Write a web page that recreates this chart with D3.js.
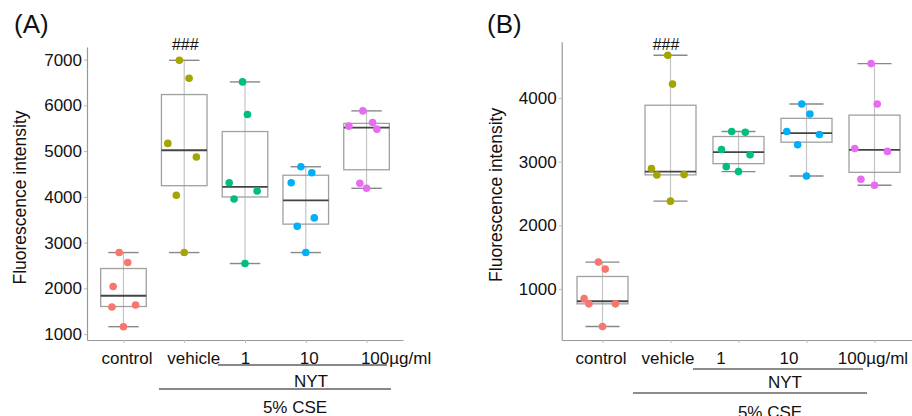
<!DOCTYPE html>
<html>
<head>
<meta charset="utf-8">
<script src="https://cdn.jsdelivr.net/npm/d3@7"></script>
<style>
	body { margin: 0; background: #fff; }
	svg { display: block; font-family: "Liberation Sans", Arial, Helvetica, sans-serif; }
</style>
</head>
<body>
<svg id="chart" width="912" height="416"></svg>
<script>
// groups and colours (ggplot default hues)
const groups	= ['control', 'vehicle', '1', '10', '100µg/ml'];
const colors	= ['#F8766D', '#A3A500', '#00BF7D', '#00B0F6', '#E76BF3'];

// panel A values, one row per group
const valuesA	= [
	[2783, 2565, 2042, 1593, 1636, 1163],
	[6984, 6592, 5168, 4870, 4035, 2783],
	[6512, 5800, 4310, 4128, 3954, 2543],
	[4658, 4527, 4310, 3540, 3359, 2783],
	[5879, 5626, 5545, 5480, 4296, 4187]
];
// horizontal jitter of each point, in group units
const jitterA	= [
	[-0.07, 0.07, -0.17, -0.19, 0.20, 0.00],
	[-0.08, 0.08, -0.27, 0.20, -0.13, 0.00],
	[-0.04, 0.04, -0.26, 0.20, -0.18, 0.00],
	[-0.08, 0.10, -0.24, 0.14, -0.14, 0.00],
	[-0.06, 0.10, -0.29, 0.17, -0.11, 0.00]
];
const ticksA	= [1000, 2000, 3000, 4000, 5000, 6000, 7000];

// panel B values
const valuesB	= [
	[1422, 1312, 848, 766, 766, 411],
	[4672, 4219, 2891, 2791, 2797, 2380],
	[3473, 3463, 3192, 3109, 2922, 2844],
	[3906, 3750, 3473, 3427, 3266, 2775],
	[4541, 3906, 3208, 3161, 2723, 2630]
];
const jitterB	= [
	[-0.06, 0.04, -0.27, -0.20, 0.19, 0.00],
	[-0.04, 0.03, -0.28, -0.20, 0.20, 0.00],
	[-0.10, 0.10, -0.25, 0.17, -0.18, 0.00],
	[-0.07, 0.05, -0.29, 0.19, -0.13, 0.00],
	[-0.05, 0.04, -0.29, 0.19, -0.20, 0.00]
];
const ticksB	= [1000, 2000, 3000, 4000];

const svg	= d3.select('#chart');

function drawPanel(cfg) {
	let g		= svg.append('g');

	let x		= d3.scalePoint().domain(groups).range([cfg.left, cfg.right]).padding(0.6);
	let step	= x.step();

	let all		= cfg.values.flat();
	let ext		= d3.extent(all);
	let pad		= (ext[1] - ext[0]) * 0.05;
	let y		= d3.scaleLinear().domain([ext[0] - pad, ext[1] + pad]).range([cfg.bottom, cfg.top]);

	// axes
	let yAxis	= g.append('g').attr('transform', 'translate(' + cfg.left + ',0)')
		.call(d3.axisLeft(y).tickValues(cfg.ticks).tickSize(3).tickSizeOuter(0).tickPadding(2).tickFormat(d3.format('d')));
	let xAxis	= g.append('g').attr('transform', 'translate(0,' + cfg.bottom + ')')
		.call(d3.axisBottom(x).tickSize(3).tickSizeOuter(0).tickPadding(6));

	[yAxis, xAxis].forEach((a) => {
		a.select('.domain').attr('stroke', '#999').attr('stroke-width', 1.2);
		a.selectAll('.tick line').attr('stroke', '#bbb');
		a.selectAll('.tick text').attr('fill', '#111').style('font-size', '17px');
	});
	xAxis.selectAll('.tick text').attr('dx', (d, i) => cfg.labelShift[i]).attr('dy', '0.9em');

	// y title
	g.append('text')
		.attr('transform', 'translate(' + cfg.titleX + ',' + ((cfg.top + cfg.bottom) / 2 + 4) + ') rotate(-90)')
		.attr('text-anchor', 'middle').attr('dy', '0.35em')
		.style('font-size', '17.5px').attr('fill', '#111')
		.text('Fluorescence intensity');

	// panel letter
	g.append('text').attr('x', cfg.letterX).attr('y', 33).style('font-size', '26px').attr('fill', '#111').text(cfg.letter);

	// boxes
	cfg.values.forEach((vals, i) => {
		let s		= vals.slice().sort(d3.ascending);
		let q1		= d3.quantile(s, 0.25);
		let med		= d3.quantile(s, 0.5);
		let q3		= d3.quantile(s, 0.75);
		let iqr		= q3 - q1;
		let lo		= d3.min(s.filter((v) => v >= q1 - 1.5 * iqr));
		let hi		= d3.max(s.filter((v) => v <= q3 + 1.5 * iqr));
		let cx		= x(groups[i]);
		let bw		= step * 0.75;
		let cw		= step * 0.5;

		let b		= g.append('g');
		b.append('line').attr('x1', cx).attr('x2', cx).attr('y1', y(lo)).attr('y2', y(hi)).attr('stroke', '#c4c4c4').attr('stroke-width', 1.2);
		b.append('line').attr('x1', cx - cw / 2).attr('x2', cx + cw / 2).attr('y1', y(lo)).attr('y2', y(lo)).attr('stroke', '#888').attr('stroke-width', 1.4);
		b.append('line').attr('x1', cx - cw / 2).attr('x2', cx + cw / 2).attr('y1', y(hi)).attr('y2', y(hi)).attr('stroke', '#888').attr('stroke-width', 1.4);
		b.append('rect').attr('x', cx - bw / 2).attr('width', bw).attr('y', y(q3)).attr('height', y(q1) - y(q3))
			.attr('fill', 'none').attr('stroke', '#a0a0a0').attr('stroke-width', 1.3);
		b.append('line').attr('x1', cx - bw / 2).attr('x2', cx + bw / 2).attr('y1', y(med)).attr('y2', y(med)).attr('stroke', '#444').attr('stroke-width', 1.8);

		b.selectAll('circle').data(vals).join('circle')
			.attr('cx', (d, j) => cx + cfg.jitter[i][j] * step)
			.attr('cy', (d) => y(d))
			.attr('r', 3.8)
			.attr('fill', colors[i]);
	});

	// significance mark over vehicle
	g.append('text').attr('x', x('vehicle') + cfg.hashShift).attr('y', cfg.hashY)
		.attr('text-anchor', 'middle').style('font-size', '16px').attr('fill', '#111').text('###');

	// treatment brackets
	let nyt		= cfg.nyt;
	g.append('line').attr('x1', nyt.x1).attr('x2', nyt.x2).attr('y1', nyt.y).attr('y2', nyt.y).attr('stroke', cfg.lineColor).attr('stroke-width', cfg.lineWidth);
	g.append('text').attr('x', nyt.tx).attr('y', nyt.ty).attr('text-anchor', 'middle').style('font-size', '17px').attr('fill', '#111').text('NYT');
	let cse		= cfg.cse;
	g.append('line').attr('x1', cse.x1).attr('x2', cse.x2).attr('y1', cse.y).attr('y2', cse.y).attr('stroke', cfg.lineColor).attr('stroke-width', cfg.lineWidth);
	g.append('text').attr('x', cse.tx).attr('y', cse.ty).attr('text-anchor', 'middle').style('font-size', '17px').attr('fill', '#111').text('5% CSE');
}

drawPanel({
	letter: '(A)', letterX: 14,
	values: valuesA, jitter: jitterA, ticks: ticksA,
	left: 87, right: 403, top: 47, bottom: 340,
	titleX: 20, labelShift: [3, 9, 0, 3, 29],
	hashShift: 1, hashY: 50,
	lineColor: '#111', lineWidth: 1,
	nyt: { x1: 218, x2: 387, y: 365, tx: 311, ty: 387 },
	cse: { x1: 159, x2: 391, y: 389, tx: 295, ty: 413 }
});

drawPanel({
	letter: '(B)', letterX: 487,
	values: valuesB, jitter: jitterB, ticks: ticksB,
	left: 561.7, right: 915.3, top: 41.7, bottom: 340,
	titleX: 496, labelShift: [-2, -3, -18, -18, -2],
	hashShift: -4.5, hashY: 49.5,
	lineColor: '#666', lineWidth: 1.6,
	nyt: { x1: 693, x2: 863, y: 369, tx: 785, ty: 388 },
	cse: { x1: 633, x2: 867, y: 393, tx: 770, ty: 418 }
});
</script>
</body>
</html>
